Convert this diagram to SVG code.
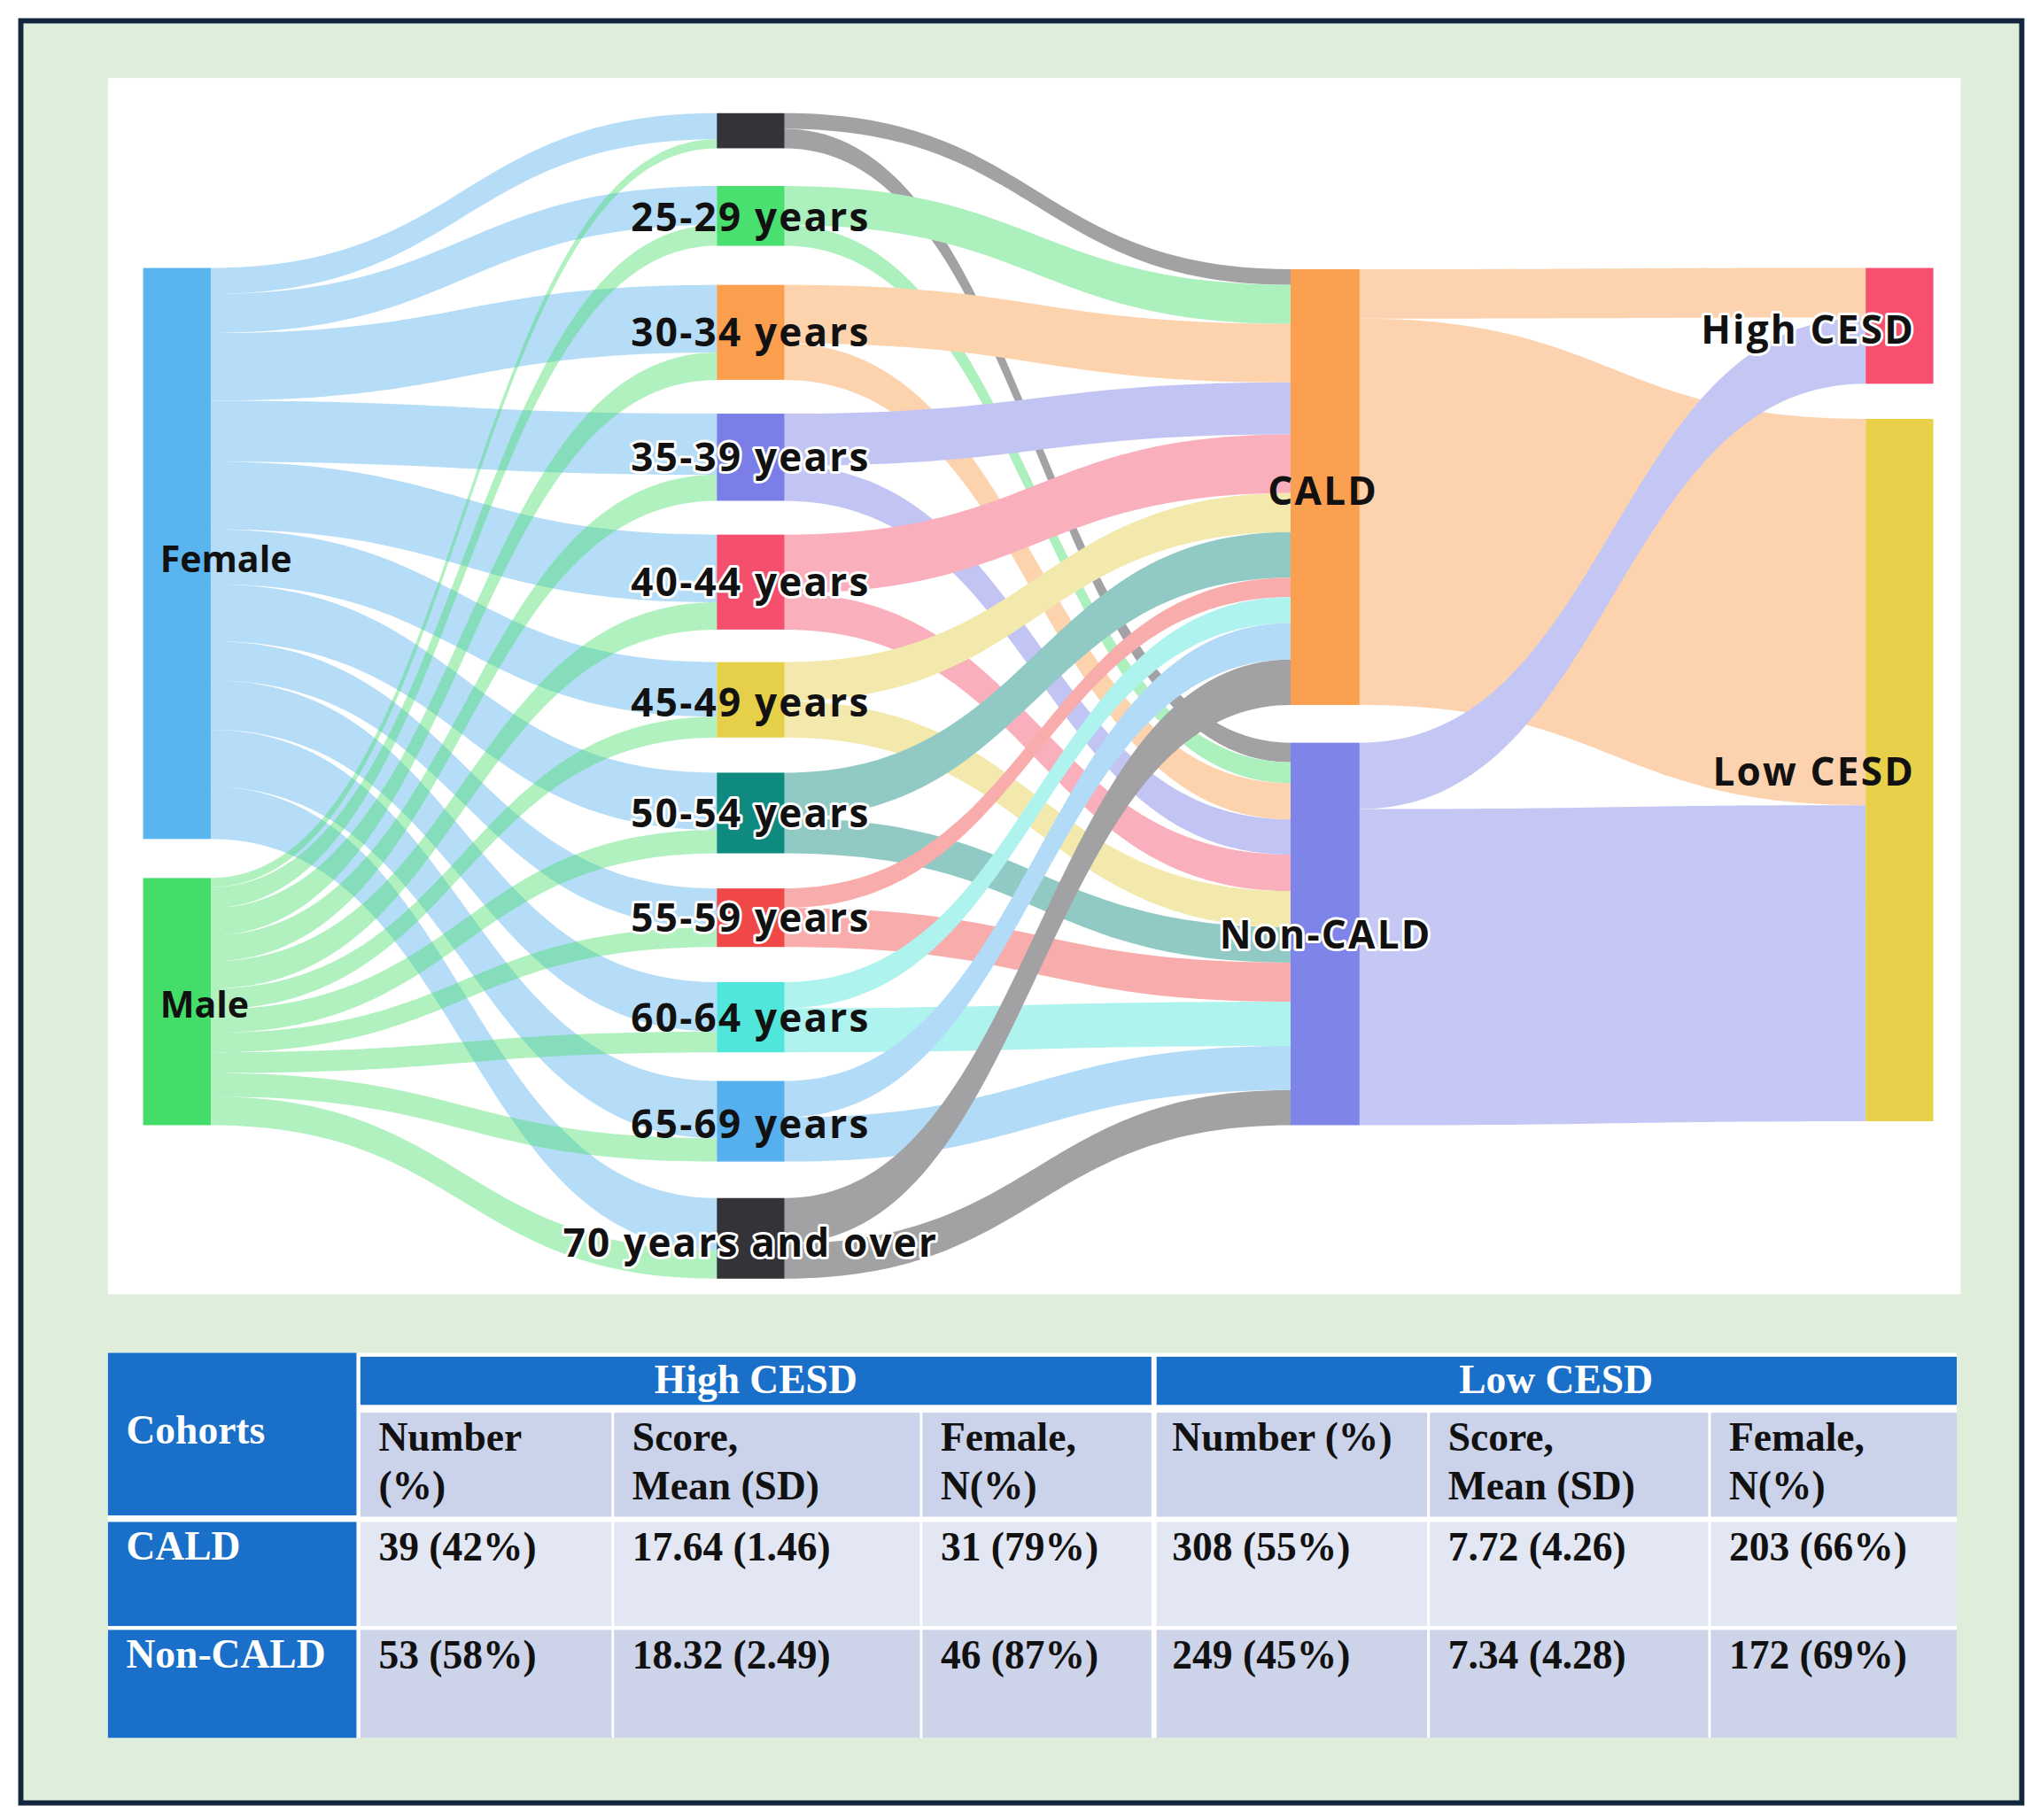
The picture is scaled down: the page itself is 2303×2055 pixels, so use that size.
<svg xmlns="http://www.w3.org/2000/svg" width="2303" height="2055" viewBox="0 0 2303 2055">
<style>
.lbl{font-family:"Open Sans","DejaVu Sans",sans-serif;font-weight:bold;font-size:28px;fill:#111}
.w{font-size:30px;letter-spacing:1.5px}
.halo{stroke:#fff;stroke-width:4px;paint-order:stroke;stroke-linejoin:round}
.f{fill:#5ab4ee;opacity:.45}.m{fill:#44dd6a;opacity:.42}
.tt{font-family:"Liberation Serif","Times New Roman",serif;font-weight:bold;font-size:31px;fill:#111}
.tw{fill:#fff}
</style>
<g transform="scale(1.46875)">
<rect x="16" y="16" width="1538" height="1370" fill="#dfeedb" stroke="#14263e" stroke-width="4"/>
<rect x="83" y="60" width="1424" height="935" fill="#fff"/>
<g id="connectors">
<path class="f" d="M162 206C356.5 206 356.5 87 551 87L551 107C356.5 107 356.5 226 162 226Z"/>
<path class="f" d="M162 226C356.5 226 356.5 143 551 143L551 173C356.5 173 356.5 256 162 256Z"/>
<path class="f" d="M162 256C356.5 256 356.5 219 551 219L551 271C356.5 271 356.5 308 162 308Z"/>
<path class="f" d="M162 308C356.5 308 356.5 318 551 318L551 365C356.5 365 356.5 355 162 355Z"/>
<path class="f" d="M162 355C356.5 355 356.5 411 551 411L551 463C356.5 463 356.5 407 162 407Z"/>
<path class="f" d="M162 407C356.5 407 356.5 509 551 509L551 551C356.5 551 356.5 449 162 449Z"/>
<path class="f" d="M162 449C356.5 449 356.5 594 551 594L551 638C356.5 638 356.5 493 162 493Z"/>
<path class="f" d="M162 493C356.5 493 356.5 683 551 683L551 713C356.5 713 356.5 523 162 523Z"/>
<path class="f" d="M162 523C356.5 523 356.5 755 551 755L551 793C356.5 793 356.5 561 162 561Z"/>
<path class="f" d="M162 561C356.5 561 356.5 831 551 831L551 875C356.5 875 356.5 605 162 605Z"/>
<path class="f" d="M162 605C356.5 605 356.5 921 551 921L551 961C356.5 961 356.5 645 162 645Z"/>
<path class="m" d="M162 675C356.5 675 356.5 107 551 107L551 114C356.5 114 356.5 682 162 682Z"/>
<path class="m" d="M162 682C356.5 682 356.5 173 551 173L551 189C356.5 189 356.5 698 162 698Z"/>
<path class="m" d="M162 698C356.5 698 356.5 271 551 271L551 292C356.5 292 356.5 719 162 719Z"/>
<path class="m" d="M162 719C356.5 719 356.5 365 551 365L551 385C356.5 385 356.5 739 162 739Z"/>
<path class="m" d="M162 739C356.5 739 356.5 463 551 463L551 484C356.5 484 356.5 760 162 760Z"/>
<path class="m" d="M162 760C356.5 760 356.5 551 551 551L551 567C356.5 567 356.5 776 162 776Z"/>
<path class="m" d="M162 776C356.5 776 356.5 638 551 638L551 656C356.5 656 356.5 794 162 794Z"/>
<path class="m" d="M162 794C356.5 794 356.5 713 551 713L551 728C356.5 728 356.5 809 162 809Z"/>
<path class="m" d="M162 809C356.5 809 356.5 793 551 793L551 809C356.5 809 356.5 825 162 825Z"/>
<path class="m" d="M162 825C356.5 825 356.5 875 551 875L551 893C356.5 893 356.5 843 162 843Z"/>
<path class="m" d="M162 843C356.5 843 356.5 961 551 961L551 983C356.5 983 356.5 865 162 865Z"/>
<g opacity=".45">
<path fill="#333338" d="M603 87C797.5 87 797.5 207 992 207L992 219C797.5 219 797.5 99 603 99Z"/>
<path fill="#333338" d="M603 99C797.5 99 797.5 571 992 571L992 586C797.5 586 797.5 114 603 114Z"/>
<path fill="#4ae070" d="M603 143C797.5 143 797.5 219 992 219L992 249C797.5 249 797.5 173 603 173Z"/>
<path fill="#4ae070" d="M603 173C797.5 173 797.5 586 992 586L992 602C797.5 602 797.5 189 603 189Z"/>
<path fill="#fb9e4e" d="M603 219C797.5 219 797.5 249 992 249L992 294C797.5 294 797.5 264 603 264Z"/>
<path fill="#fb9e4e" d="M603 264C797.5 264 797.5 602 992 602L992 630C797.5 630 797.5 292 603 292Z"/>
<path fill="#7a7ee6" d="M603 318C797.5 318 797.5 294 992 294L992 334C797.5 334 797.5 358 603 358Z"/>
<path fill="#7a7ee6" d="M603 358C797.5 358 797.5 630 992 630L992 657C797.5 657 797.5 385 603 385Z"/>
<path fill="#f4506e" d="M603 411C797.5 411 797.5 334 992 334L992 379C797.5 379 797.5 456 603 456Z"/>
<path fill="#f4506e" d="M603 456C797.5 456 797.5 657 992 657L992 685C797.5 685 797.5 484 603 484Z"/>
<path fill="#e6d04a" d="M603 509C797.5 509 797.5 379 992 379L992 409C797.5 409 797.5 539 603 539Z"/>
<path fill="#e6d04a" d="M603 539C797.5 539 797.5 685 992 685L992 713C797.5 713 797.5 567 603 567Z"/>
<path fill="#0e8a7e" d="M603 594C797.5 594 797.5 409 992 409L992 444C797.5 444 797.5 629 603 629Z"/>
<path fill="#0e8a7e" d="M603 629C797.5 629 797.5 713 992 713L992 740C797.5 740 797.5 656 603 656Z"/>
<path fill="#f04848" d="M603 683C797.5 683 797.5 444 992 444L992 459C797.5 459 797.5 698 603 698Z"/>
<path fill="#f04848" d="M603 698C797.5 698 797.5 740 992 740L992 770C797.5 770 797.5 728 603 728Z"/>
<path fill="#50e6dc" d="M603 755C797.5 755 797.5 459 992 459L992 479C797.5 479 797.5 775 603 775Z"/>
<path fill="#50e6dc" d="M603 775C797.5 775 797.5 770 992 770L992 804C797.5 804 797.5 809 603 809Z"/>
<path fill="#56b0ee" d="M603 831C797.5 831 797.5 479 992 479L992 507C797.5 507 797.5 859 603 859Z"/>
<path fill="#56b0ee" d="M603 859C797.5 859 797.5 804 992 804L992 838C797.5 838 797.5 893 603 893Z"/>
<path fill="#333338" d="M603 921C797.5 921 797.5 507 992 507L992 542C797.5 542 797.5 956 603 956Z"/>
<path fill="#333338" d="M603 956C797.5 956 797.5 838 992 838L992 865C797.5 865 797.5 983 603 983Z"/>
</g>
<g opacity=".45">
<path fill="#fba050" d="M1045 207C1239.5 207 1239.5 206 1434 206L1434 244C1239.5 244 1239.5 245 1045 245Z"/>
<path fill="#fba050" d="M1045 245C1239.5 245 1239.5 322 1434 322L1434 619C1239.5 619 1239.5 542 1045 542Z"/>
<path fill="#7e84e8" d="M1045 571C1239.5 571 1239.5 244 1434 244L1434 295C1239.5 295 1239.5 622 1045 622Z"/>
<path fill="#7e84e8" d="M1045 622C1239.5 622 1239.5 619 1434 619L1434 862C1239.5 862 1239.5 865 1045 865Z"/>
</g>
</g>
<g id="n-female"><rect x="110" y="206" width="52" height="439" fill="#5ab4ee"/><text class="lbl" x="123" y="440">Female</text></g>
<g id="n-male"><rect x="110" y="675" width="52" height="190" fill="#44dd6a"/><text class="lbl" x="123" y="782">Male</text></g>
<g id="n-a20"><rect x="551" y="87" width="52" height="27" fill="#333338"/></g>
<g id="n-a25"><rect x="551" y="143" width="52" height="46" fill="#4ae070"/><text class="lbl w" x="577" y="178" text-anchor="middle">25-29 years</text></g>
<g id="n-a30"><rect x="551" y="219" width="52" height="73" fill="#fb9e4e"/><text class="lbl w" x="577" y="266" text-anchor="middle">30-34 years</text></g>
<g id="n-a35"><rect x="551" y="318" width="52" height="67" fill="#7a7ee6"/><text class="lbl w halo" x="577" y="362" text-anchor="middle">35-39 years</text></g>
<g id="n-a40"><rect x="551" y="411" width="52" height="73" fill="#f4506e"/><text class="lbl w halo" x="577" y="458" text-anchor="middle">40-44 years</text></g>
<g id="n-a45"><rect x="551" y="509" width="52" height="58" fill="#e6d04a"/><text class="lbl w" x="577" y="551" text-anchor="middle">45-49 years</text></g>
<g id="n-a50"><rect x="551" y="594" width="52" height="62" fill="#0e8a7e"/><text class="lbl w halo" x="577" y="636" text-anchor="middle">50-54 years</text></g>
<g id="n-a55"><rect x="551" y="683" width="52" height="45" fill="#f04848"/><text class="lbl w halo" x="577" y="716" text-anchor="middle">55-59 years</text></g>
<g id="n-a60"><rect x="551" y="755" width="52" height="54" fill="#50e6dc"/><text class="lbl w" x="577" y="793" text-anchor="middle">60-64 years</text></g>
<g id="n-a65"><rect x="551" y="831" width="52" height="62" fill="#56b0ee"/><text class="lbl w" x="577" y="875" text-anchor="middle">65-69 years</text></g>
<g id="n-a70"><rect x="551" y="921" width="52" height="62" fill="#333338"/><text class="lbl w halo" x="577" y="966" text-anchor="middle">70 years and over</text></g>
<g id="n-cald"><rect x="992" y="207" width="53" height="335" fill="#fba050"/><text class="lbl w" x="1017" y="388" text-anchor="middle">CALD</text></g>
<g id="n-noncald"><rect x="992" y="571" width="53" height="294" fill="#7e84e8"/><text class="lbl w halo" x="1019" y="729" text-anchor="middle">Non-CALD</text></g>
<g id="n-high"><rect x="1434" y="206" width="52" height="89" fill="#f6506e"/><text class="lbl w halo" x="1472" y="264" text-anchor="end">High CESD</text></g>
<g id="n-low"><rect x="1434" y="322" width="52" height="540" fill="#e8d04a"/><text class="lbl w" x="1472" y="604" text-anchor="end">Low CESD</text></g>
<g id="table">
<rect x="83" y="1040" width="1421" height="296" fill="#fff"/>
<rect x="83" y="1040" width="191" height="125" fill="#1a6fc8"/>
<rect x="83" y="1170" width="191" height="80" fill="#1a6fc8"/>
<rect x="83" y="1253" width="191" height="83" fill="#1a6fc8"/>
<rect x="277" y="1043" width="608" height="37" fill="#1a6fc8"/>
<rect x="889" y="1043" width="615" height="37" fill="#1a6fc8"/>
<g fill="#cbd3ea">
<rect x="277" y="1086" width="193" height="80"/><rect x="472" y="1086" width="235" height="80"/><rect x="709" y="1086" width="176" height="80"/>
<rect x="889" y="1086" width="208" height="80"/><rect x="1099" y="1086" width="214" height="80"/><rect x="1315" y="1086" width="189" height="80"/>
</g>
<g fill="#e3e7f3">
<rect x="277" y="1170" width="193" height="80"/><rect x="472" y="1170" width="235" height="80"/><rect x="709" y="1170" width="176" height="80"/>
<rect x="889" y="1170" width="208" height="80"/><rect x="1099" y="1170" width="214" height="80"/><rect x="1315" y="1170" width="189" height="80"/>
</g>
<g fill="#cdd4ea">
<rect x="277" y="1253" width="193" height="83"/><rect x="472" y="1253" width="235" height="83"/><rect x="709" y="1253" width="176" height="83"/>
<rect x="889" y="1253" width="208" height="83"/><rect x="1099" y="1253" width="214" height="83"/><rect x="1315" y="1253" width="189" height="83"/>
</g>
<text class="tt tw" x="97" y="1110">Cohorts</text>
<text class="tt tw" x="581" y="1071" text-anchor="middle">High CESD</text>
<text class="tt tw" x="1196" y="1071" text-anchor="middle">Low CESD</text>
<text class="tt tw" x="97" y="1199">CALD</text>
<text class="tt tw" x="97" y="1282">Non-CALD</text>
<text class="tt" x="291" y="1115">Number</text><text class="tt" x="291" y="1153">(%)</text>
<text class="tt" x="486" y="1115">Score,</text><text class="tt" x="486" y="1153">Mean (SD)</text>
<text class="tt" x="723" y="1115">Female,</text><text class="tt" x="723" y="1153">N(%)</text>
<text class="tt" x="901" y="1115">Number (%)</text>
<text class="tt" x="1113" y="1115">Score,</text><text class="tt" x="1113" y="1153">Mean (SD)</text>
<text class="tt" x="1329" y="1115">Female,</text><text class="tt" x="1329" y="1153">N(%)</text>
<text class="tt" x="291" y="1200">39 (42%)</text><text class="tt" x="486" y="1200">17.64 (1.46)</text><text class="tt" x="723" y="1200">31 (79%)</text>
<text class="tt" x="901" y="1200">308 (55%)</text><text class="tt" x="1113" y="1200">7.72 (4.26)</text><text class="tt" x="1329" y="1200">203 (66%)</text>
<text class="tt" x="291" y="1283">53 (58%)</text><text class="tt" x="486" y="1283">18.32 (2.49)</text><text class="tt" x="723" y="1283">46 (87%)</text>
<text class="tt" x="901" y="1283">249 (45%)</text><text class="tt" x="1113" y="1283">7.34 (4.28)</text><text class="tt" x="1329" y="1283">172 (69%)</text>
</g>
</g>
</svg>
